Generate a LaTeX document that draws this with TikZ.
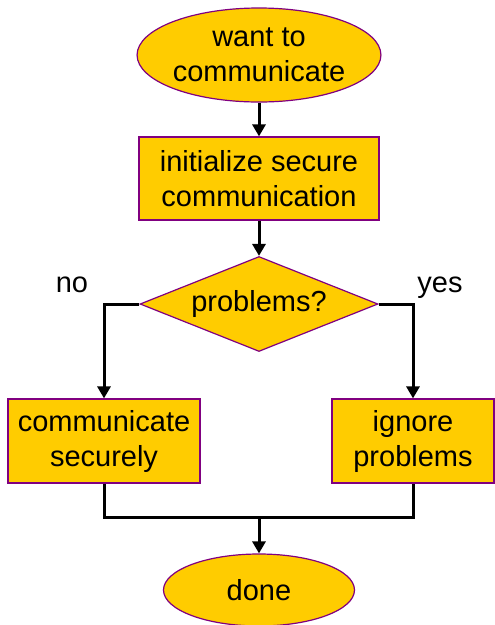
\documentclass[tikz,border=0pt]{standalone}
\usepackage{fontspec}
\setmainfont{Liberation Sans}
\usepackage{tikz}
\usetikzlibrary{shapes.geometric,arrows.meta,positioning}
\definecolor{boxfill}{HTML}{FFCC00}
\definecolor{boxline}{HTML}{800080}
\newcommand\chartfont{\fontsize{29}{35}\selectfont}
\tikzset{
  term/.style={ellipse, draw=boxline, fill=boxfill, line width=1.2pt, inner sep=0pt, align=center, font=\chartfont},
  proc/.style={rectangle, draw=boxline, fill=boxfill, line width=1.2pt, inner sep=0pt, align=center, font=\chartfont},
  test/.style={diamond, aspect=2.5, draw=boxline, fill=boxfill, line width=1.2pt, inner sep=0pt, align=center, font=\chartfont},
  flow/.style={draw=black, line width=3pt, -{Triangle[length=12pt,width=13pt]}},
  wire/.style={draw=black, line width=3pt},
  lab/.style={font=\chartfont, anchor=base},
}
\begin{document}
\begin{tikzpicture}[x=1pt,y=-1pt]
\useasboundingbox (0,0) rectangle (495,625);
\node[term, minimum width=240pt, minimum height=94pt] (start) at (259,55) {want to\\communicate};
\node[proc, minimum width=240pt, minimum height=83pt] (init) at (259,178.5) {initialize secure\\communication};
\node[test, minimum width=238pt, minimum height=95pt] (check) at (259,304) {problems?};
\node[proc, minimum width=192pt, minimum height=84pt] (secure) at (104,441) {communicate\\securely};
\node[proc, minimum width=162pt, minimum height=84pt] (ignore) at (413,441) {ignore\\problems};
\node[term, minimum width=191pt, minimum height=72pt] (done) at (259,590) {done};
\node[lab] (lno) at (72,292) {no};
\node[lab] (lyes) at (440,292) {yes};
\coordinate (join) at (259,517);

\draw[flow] (start) -- (init);
\draw[flow] (init) -- (check);
\draw[flow] (check.west) -| (secure.north);
\draw[flow] (check.east) -| (ignore.north);
\draw[wire] (secure.south) |- (join) -| (ignore.south);
\draw[flow] (join) -- (done.north);
\end{tikzpicture}
\end{document}
